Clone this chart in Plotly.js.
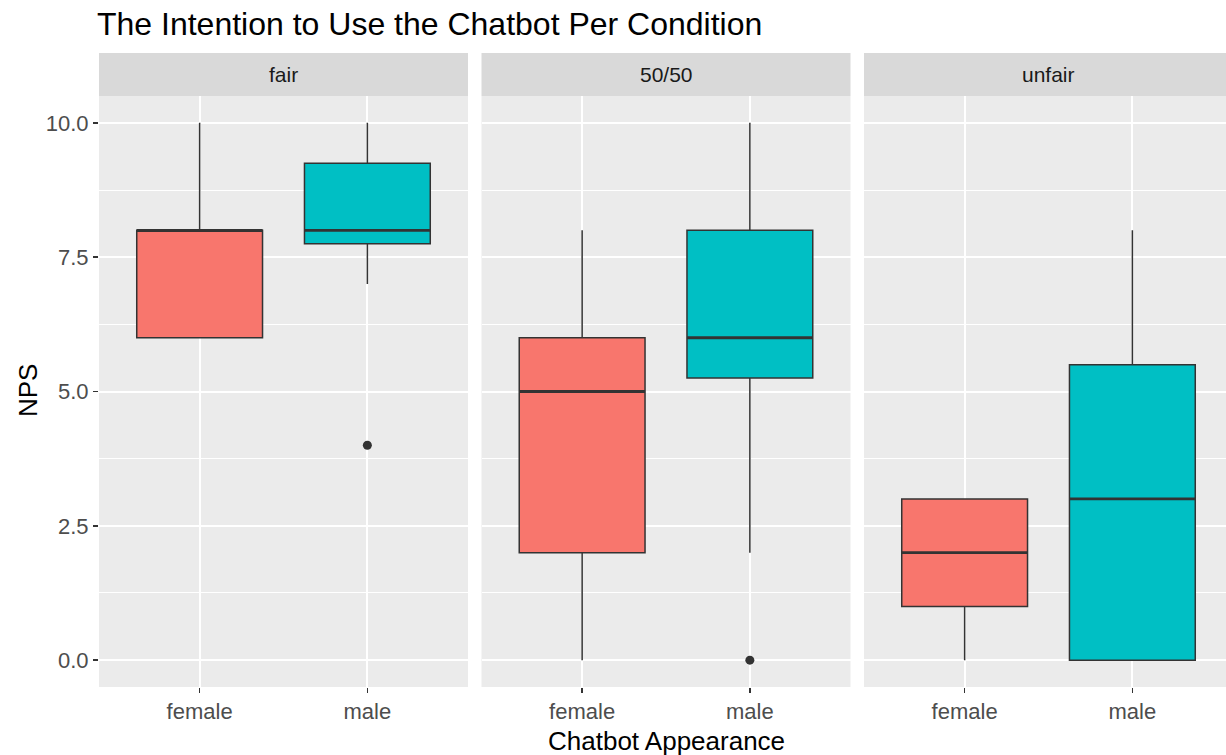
<!DOCTYPE html>
<html>
<head>
<meta charset="utf-8">
<script src="https://cdn.plot.ly/plotly-3.0.1.min.js"></script>
<style>
html,body{margin:0;padding:0;overflow:hidden;background:#fff;}
#chart{width:1233px;height:755px;}
</style>
</head>
<body>
<div id="chart"></div>
<script>
// ---- data ----
const facets = ['fair', '50/50', 'unfair'];
const appearance = ['female', 'male'];
const lowerWhisker = [[6, 7], [0, 2], [0, 0]];
const q1Vals = [[6, 7.75], [2, 5.25], [1, 0]];
const medianVals = [[8, 8], [5, 6], [2, 3]];
const q3Vals = [[8, 9.25], [6, 8], [3, 5.5]];
const upperWhisker = [[10, 10], [8, 10], [3, 8]];
const outliers = [[[], [4]], [[], [0]], [[], []]];
const fills = ['#F8766D', '#00BFC4'];

// ---- layout geometry ----
const W = 1233, H = 755, L = 99, T = 53, B = 68;
const plotW = W - L, plotH = H - T - B;
const stripH = 43;
const panelW = 369, gap = 13.5;
const yTop = (plotH - stripH) / plotH;
const font = 'Liberation Sans, Arial, sans-serif';

const traces = [];
facets.forEach((f, i) => {
  const xa = i === 0 ? 'x' : 'x' + (i + 1);
  appearance.forEach((a, j) => {
    traces.push({
      type: 'box', x: [a], xaxis: xa, yaxis: 'y',
      q1: [q1Vals[i][j]], median: [medianVals[i][j]], q3: [q3Vals[i][j]],
      lowerfence: [lowerWhisker[i][j]], upperfence: [upperWhisker[i][j]],
      fillcolor: fills[j], line: {color: '#333333', width: 1.5},
      width: 0.75, whiskerwidth: 0, boxpoints: false, showlegend: false, hoverinfo: 'y'
    });
    // thicker median line (ggplot fatten)
    traces.push({
      type: 'box', x: [a], xaxis: xa, yaxis: 'y',
      q1: [medianVals[i][j]], median: [medianVals[i][j]], q3: [medianVals[i][j]],
      lowerfence: [medianVals[i][j]], upperfence: [medianVals[i][j]],
      fillcolor: 'rgba(0,0,0,0)', line: {color: '#333333', width: 2.8},
      width: 0.75, whiskerwidth: 0, boxpoints: false, showlegend: false, hoverinfo: 'skip'
    });
    if (outliers[i][j].length) {
      traces.push({
        type: 'scatter', mode: 'markers', xaxis: xa, yaxis: 'y',
        x: outliers[i][j].map(() => a), y: outliers[i][j],
        marker: {color: '#333333', size: 9}, showlegend: false
      });
    }
  });
});

const layout = {
  width: W, height: H,
  margin: {l: L, r: 0, t: T, b: B},
  paper_bgcolor: '#FFFFFF', plot_bgcolor: '#EBEBEB',
  boxmode: 'overlay',
  showlegend: false,
  font: {family: font, color: '#4D4D4D'},
  title: {
    text: 'The Intention to Use the Chatbot Per Condition',
    x: 97 / W, xanchor: 'left', xref: 'container',
    y: 1 - 24 / H, yref: 'container', yanchor: 'middle',
    font: {family: font, size: 32, color: '#000000'}
  },
  yaxis: {
    range: [-0.5, 10.5], tickvals: [0, 2.5, 5, 7.5, 10], tickformat: '.1f',
    domain: [0, yTop], anchor: 'x',
    showgrid: true, gridcolor: '#FFFFFF', gridwidth: 2,
    minor: {tick0: 0, dtick: 1.25, showgrid: true, gridcolor: '#FFFFFF', gridwidth: 1, ticks: ''},
    ticks: 'outside', ticklen: 5, tickwidth: 1.5, tickcolor: '#333333',
    tickfont: {size: 22, color: '#4D4D4D', family: font},
    zeroline: false, showline: false, fixedrange: true
  },
  shapes: [], annotations: []
};

facets.forEach((f, i) => {
  const key = i === 0 ? 'xaxis' : 'xaxis' + (i + 1);
  const x0 = (i * (panelW + gap)) / plotW;
  const x1 = Math.min(1, (i * (panelW + gap) + panelW) / plotW);
  layout[key] = {
    domain: [x0, x1], anchor: 'y', type: 'category',
    categoryorder: 'array', categoryarray: appearance,
    range: [-0.6, 1.6],
    showgrid: true, gridcolor: '#FFFFFF', gridwidth: 2,
    ticks: 'outside', ticklen: 5, tickwidth: 1.5, tickcolor: '#333333',
    tickfont: {size: 22, color: '#4D4D4D', family: font},
    zeroline: false, showline: false, fixedrange: true
  };
  layout.shapes.push({
    type: 'rect', xref: 'paper', yref: 'paper',
    x0: x0, x1: x1, y0: yTop, y1: 1,
    fillcolor: '#D9D9D9', line: {width: 0}, layer: 'below'
  });
  layout.annotations.push({
    text: f, xref: 'paper', yref: 'paper',
    x: (x0 + x1) / 2, y: (yTop + 1) / 2, xanchor: 'center', yanchor: 'middle',
    showarrow: false, font: {size: 21, color: '#1A1A1A', family: font}
  });
});

layout.annotations.push({
  text: 'Chatbot Appearance', xref: 'paper', yref: 'paper',
  x: 0.5, y: (687 - 741) / plotH, xanchor: 'center', yanchor: 'middle',
  showarrow: false, font: {size: 26, color: '#000000', family: font}
});
layout.annotations.push({
  text: 'NPS', xref: 'paper', yref: 'paper', textangle: -90,
  x: (28 - L) / plotW, y: (687 - 391) / plotH, xanchor: 'center', yanchor: 'middle',
  showarrow: false, font: {size: 26, color: '#000000', family: font}
});

Plotly.newPlot('chart', traces, layout, {displayModeBar: false, staticPlot: true});
</script>
</body>
</html>
